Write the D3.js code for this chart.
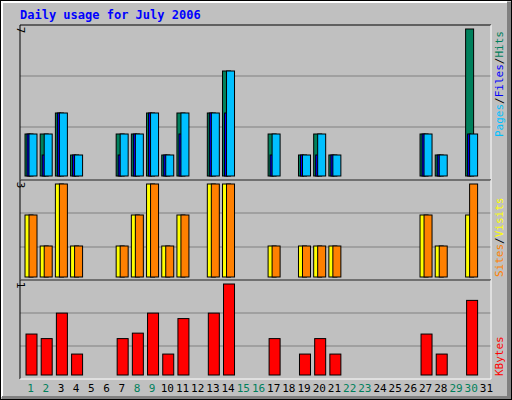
<!DOCTYPE html>
<html><head><meta charset="utf-8">
<script src="https://cdn.jsdelivr.net/npm/d3@7"></script>
<style>body{margin:0}svg{display:block}</style>
</head><body>
<script>
const days = d3.range(1, 32);
const weekend = [1, 2, 8, 9, 15, 16, 22, 23, 29, 30];
const hits =   [2,2,3,1,0,0,2,2,3,1,3,0,3,5,0,0,2,0,1,2,1,0,0,0,0,0,2,1,0,7,0];
const files =  [2,1,3,1,0,0,1,2,3,1,2,0,3,3,0,0,1,0,1,1,1,0,0,0,0,0,2,1,0,2,0];
const pages =  [2,2,3,1,0,0,2,2,3,1,3,0,3,5,0,0,2,0,1,2,1,0,0,0,0,0,2,1,0,2,0];
const visits = [2,1,3,1,0,0,1,2,3,1,2,0,3,3,0,0,1,0,1,1,1,0,0,0,0,0,2,1,0,2,0];
const sites =  [2,1,3,1,0,0,1,2,3,1,2,0,3,3,0,0,1,0,1,1,1,0,0,0,0,0,2,1,0,3,0];
const kbytes = [0.45,0.40,0.68,0.23,0,0,0.40,0.46,0.68,0.23,0.62,0,0.68,1.0,0,0,0.40,0,0.23,0.40,0.23,0,0,0,0,0,0.45,0.23,0,0.82,0];

const W = 512, H = 400, left = 20, right = 491;
const font = "'DejaVu Sans Mono', monospace";
const svg = d3.select('body').append('svg').attr('width', W).attr('height', H);

// frame
svg.append('rect').attr('width', W).attr('height', H).attr('fill', '#c0c0c0');
svg.append('rect').attr('x', 0.5).attr('y', 0.5).attr('width', W - 1).attr('height', H - 1).attr('fill', 'none').attr('stroke', '#000');
svg.append('path').attr('d', 'M2,397V2H507').attr('stroke', '#fff').attr('stroke-width', 2).attr('fill', 'none');
svg.append('rect').attr('x', 507).attr('y', 2).attr('width', 4).attr('height', 397).attr('fill', '#808080');
svg.append('rect').attr('x', 2).attr('y', 396).attr('width', 509).attr('height', 3).attr('fill', '#808080');

svg.append('text').attr('x', 20).attr('y', 19).attr('fill', '#0000ff')
  .attr('font-family', font).attr('font-weight', 'bold').attr('font-size', 12)
  .text('Daily usage for July 2006');

const x = d3.scaleBand().domain(days).range([left, right]).paddingInner(0);

function panel(top, bottom, base, maxTop, max, grids, label, series, legend, legendY) {
  const y = d3.scaleLinear().domain([0, max]).range([base, maxTop]);
  const g = svg.append('g');
  g.selectAll('line.grid').data(grids).join('line')
    .attr('x1', left).attr('x2', right).attr('y1', d => d).attr('y2', d => d)
    .attr('stroke', '#808080');
  series.forEach(s => {
    g.selectAll(null).data(days.filter((d, i) => s.vals[i] > 0)).join('rect')
      .attr('x', d => x(d) + s.dx).attr('width', s.w)
      .attr('y', d => y(s.vals[d - 1])).attr('height', d => base - y(s.vals[d - 1]))
      .attr('fill', s.color).attr('stroke', '#000');
  });
  g.append('path').attr('d', `M${left},${bottom}V${top}H${right}`).attr('stroke', '#000').attr('fill', 'none');
  g.append('path').attr('d', `M${left},${bottom}H${right}V${top}`).attr('stroke', '#fff').attr('fill', 'none');
  g.append('text').attr('transform', `translate(17,${maxTop + 1}) rotate(90)`)
    .attr('font-family', font).attr('font-size', 11).attr('text-anchor', 'middle').text(label);
  const t = g.append('text').attr('transform', `translate(503,${legendY}) rotate(-90)`)
    .attr('font-family', font).attr('font-size', 11);
  legend.forEach((l, i) => {
    if (i) t.append('tspan').attr('fill', '#000').text('/');
    t.append('tspan').attr('fill', l[1]).text(l[0]);
  });
}

panel(25, 180, 176, 29, 7, [76, 127], '7', [
  { vals: hits, color: '#00805c', dx: 5, w: 8 },
  { vals: files, color: '#0000ff', dx: 7, w: 3 },
  { vals: pages, color: '#00c0ff', dx: 9, w: 8 }
], [['Pages', '#00c0ff'], ['Files', '#0000ff'], ['Hits', '#00805c']], 137);

panel(180, 280, 277, 184, 3, [213, 247], '3', [
  { vals: visits, color: '#ffff00', dx: 5, w: 8 },
  { vals: sites, color: '#ff8000', dx: 9, w: 8 }
], [['Sites', '#ff8000'], ['Visits', '#ffff00']], 277);

panel(280, 379, 375, 284, 1, [313, 346], '1', [
  { vals: kbytes, color: '#ff0000', dx: 6, w: 11 }
], [['KBytes', '#ff0000']], 376);

svg.selectAll('text.day').data(days).join('text')
  .attr('x', d => x(d) + x.bandwidth() / 2 + 3).attr('y', 392)
  .attr('text-anchor', 'middle').attr('font-family', font).attr('font-size', 11)
  .attr('fill', d => weekend.includes(d) ? '#00805c' : '#000').text(d => d);
</script>
</body></html>
